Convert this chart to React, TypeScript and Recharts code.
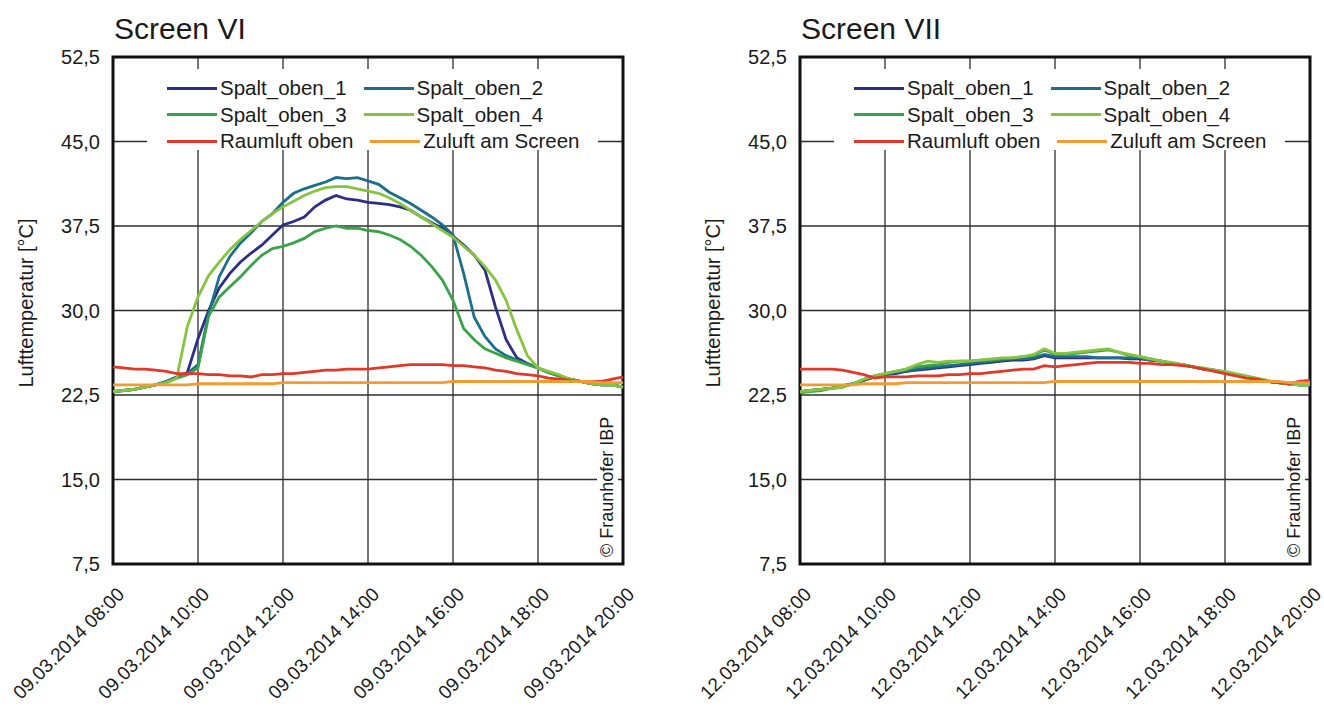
import React from 'react';
import { LineChart, Line, XAxis, YAxis, CartesianGrid, ReferenceArea, Legend } from 'recharts';

const FONT = '"Liberation Sans", Arial, Helvetica, sans-serif';

// time of day in hours, 15 min steps
const hours = [
  8, 8.25, 8.5, 8.75, 9, 9.25, 9.5, 9.75, 10, 10.25, 10.5, 10.75, 11, 11.25, 11.5, 11.75,
  12, 12.25, 12.5, 12.75, 13, 13.25, 13.5, 13.75, 14, 14.25, 14.5, 14.75, 15, 15.25, 15.5, 15.75,
  16, 16.25, 16.5, 16.75, 17, 17.25, 17.5, 17.75, 18, 18.25, 18.5, 18.75, 19, 19.25, 19.5, 19.75, 20,
];
const xTicks = [8, 10, 12, 14, 16, 18, 20];
const yTicks = [7.5, 15, 22.5, 30, 37.5, 45, 52.5];

const seriesNames = ['Spalt_oben_1', 'Spalt_oben_2', 'Spalt_oben_3', 'Spalt_oben_4', 'Raumluft oben', 'Zuluft am Screen'];
const seriesColors = ['#2b2f86', '#1b6f8a', '#3aa348', '#86c440', '#e3372a', '#f39a30'];

// Screen VI, 09.03.2014
const vi_spalt1 = [22.8, 22.9, 23.0, 23.2, 23.4, 23.7, 24.1, 24.5, 27.5, 30.0, 32.0, 33.3, 34.3, 35.1, 35.8, 36.7, 37.6, 37.9, 38.3, 39.2, 39.8, 40.2, 39.9, 39.8, 39.6, 39.5, 39.4, 39.2, 38.9, 38.3, 37.8, 37.3, 36.6, 35.8, 34.9, 33.6, 30.3, 27.4, 25.8, 25.3, 24.9, 24.5, 24.2, 23.9, 23.7, 23.5, 23.4, 23.4, 23.2];
const vi_spalt2 = [22.8, 22.9, 23.0, 23.2, 23.4, 23.7, 24.1, 24.4, 25.2, 29.7, 33.0, 34.8, 36.0, 36.9, 37.9, 38.6, 39.6, 40.4, 40.8, 41.1, 41.4, 41.8, 41.7, 41.8, 41.5, 41.2, 40.5, 40.0, 39.5, 38.9, 38.3, 37.6, 36.7, 33.3, 29.4, 27.7, 26.6, 26.0, 25.6, 25.3, 24.9, 24.5, 24.2, 23.9, 23.7, 23.5, 23.4, 23.4, 23.2];
const vi_spalt3 = [22.8, 22.9, 23.0, 23.2, 23.4, 23.6, 24.0, 24.3, 24.9, 29.5, 31.2, 32.1, 33.0, 34.0, 34.9, 35.5, 35.7, 36.0, 36.4, 37.0, 37.3, 37.5, 37.3, 37.3, 37.1, 37.0, 36.7, 36.3, 35.7, 34.9, 33.9, 32.7, 30.9, 28.4, 27.4, 26.6, 26.2, 25.8, 25.5, 25.2, 24.9, 24.5, 24.2, 23.9, 23.7, 23.5, 23.4, 23.4, 23.2];
const vi_spalt4 = [22.8, 22.9, 23.0, 23.2, 23.4, 23.6, 24.0, 28.6, 31.2, 33.1, 34.3, 35.4, 36.3, 37.1, 37.9, 38.6, 39.2, 39.7, 40.2, 40.6, 40.9, 41.0, 41.0, 40.8, 40.6, 40.4, 40.0, 39.5, 38.9, 38.3, 37.7, 37.1, 36.5, 35.7, 34.9, 33.9, 32.7, 30.9, 28.3, 26.0, 24.9, 24.6, 24.3, 23.9, 23.7, 23.5, 23.4, 23.4, 23.2];
const vi_raum = [25.0, 24.9, 24.8, 24.8, 24.7, 24.6, 24.4, 24.4, 24.4, 24.3, 24.3, 24.2, 24.2, 24.1, 24.3, 24.3, 24.4, 24.4, 24.5, 24.6, 24.7, 24.7, 24.8, 24.8, 24.8, 24.9, 25.0, 25.1, 25.2, 25.2, 25.2, 25.2, 25.1, 25.1, 25.0, 24.9, 24.7, 24.6, 24.4, 24.3, 24.2, 24.0, 23.9, 23.8, 23.7, 23.7, 23.7, 23.9, 24.1];
const vi_zuluft = [23.4, 23.4, 23.4, 23.4, 23.4, 23.4, 23.4, 23.4, 23.5, 23.5, 23.5, 23.5, 23.5, 23.5, 23.5, 23.5, 23.6, 23.6, 23.6, 23.6, 23.6, 23.6, 23.6, 23.6, 23.6, 23.6, 23.6, 23.6, 23.6, 23.6, 23.6, 23.6, 23.7, 23.7, 23.7, 23.7, 23.7, 23.7, 23.7, 23.7, 23.7, 23.7, 23.7, 23.7, 23.7, 23.7, 23.6, 23.6, 23.6];

// Screen VII, 12.03.2014
const vii_spalt1 = [22.8, 22.9, 23.0, 23.1, 23.3, 23.5, 23.8, 24.1, 24.3, 24.4, 24.6, 24.7, 24.8, 24.9, 25.0, 25.1, 25.2, 25.3, 25.4, 25.5, 25.6, 25.6, 25.7, 26.0, 25.8, 25.8, 25.8, 25.8, 25.8, 25.8, 25.8, 25.7, 25.7, 25.6, 25.5, 25.3, 25.2, 25.0, 24.8, 24.7, 24.5, 24.3, 24.1, 23.9, 23.7, 23.6, 23.5, 23.4, 23.4];
const vii_spalt2 = [22.8, 22.9, 23.0, 23.1, 23.3, 23.5, 23.8, 24.1, 24.3, 24.5, 24.6, 24.8, 24.9, 25.0, 25.1, 25.2, 25.3, 25.4, 25.5, 25.6, 25.7, 25.7, 25.8, 26.1, 25.9, 25.9, 25.9, 25.9, 25.8, 25.8, 25.8, 25.8, 25.8, 25.6, 25.5, 25.3, 25.2, 25.0, 24.8, 24.7, 24.5, 24.3, 24.1, 23.9, 23.7, 23.6, 23.5, 23.4, 23.4];
const vii_spalt3 = [22.7, 22.8, 22.9, 23.1, 23.2, 23.5, 23.9, 24.2, 24.4, 24.6, 24.8, 25.0, 25.1, 25.2, 25.4, 25.5, 25.5, 25.6, 25.6, 25.7, 25.8, 25.9, 26.0, 26.5, 26.1, 26.1, 26.2, 26.3, 26.4, 26.5, 26.3, 26.0, 25.9, 25.7, 25.5, 25.3, 25.2, 25.0, 24.8, 24.7, 24.5, 24.3, 24.1, 23.9, 23.7, 23.6, 23.5, 23.4, 23.4];
const vii_spalt4 = [22.8, 22.9, 23.0, 23.1, 23.2, 23.5, 23.9, 24.2, 24.4, 24.6, 24.8, 25.2, 25.5, 25.4, 25.5, 25.5, 25.5, 25.6, 25.7, 25.8, 25.8, 25.9, 26.1, 26.6, 26.2, 26.2, 26.3, 26.4, 26.5, 26.6, 26.3, 26.1, 25.9, 25.7, 25.5, 25.4, 25.2, 25.0, 24.9, 24.7, 24.6, 24.4, 24.2, 24.0, 23.8, 23.6, 23.5, 23.4, 23.4];
const vii_raum = [24.8, 24.8, 24.8, 24.8, 24.7, 24.5, 24.3, 24.0, 24.1, 24.1, 24.1, 24.2, 24.2, 24.2, 24.3, 24.3, 24.4, 24.4, 24.5, 24.6, 24.7, 24.8, 24.8, 25.1, 25.0, 25.1, 25.2, 25.3, 25.4, 25.4, 25.4, 25.4, 25.3, 25.3, 25.2, 25.2, 25.1, 25.0, 24.8, 24.6, 24.4, 24.2, 24.0, 23.9, 23.7, 23.6, 23.5, 23.7, 23.8];
const vii_zuluft = [23.4, 23.4, 23.4, 23.4, 23.4, 23.4, 23.5, 23.5, 23.5, 23.5, 23.6, 23.6, 23.6, 23.6, 23.6, 23.6, 23.6, 23.6, 23.6, 23.6, 23.6, 23.6, 23.6, 23.6, 23.7, 23.7, 23.7, 23.7, 23.7, 23.7, 23.7, 23.7, 23.7, 23.7, 23.7, 23.7, 23.7, 23.7, 23.7, 23.7, 23.7, 23.7, 23.7, 23.7, 23.7, 23.7, 23.6, 23.6, 23.6];

const keys = ['s1', 's2', 's3', 's4', 'raum', 'zuluft'];

function buildRows(cols: number[][]) {
  return hours.map((h, i) => {
    const row: Record<string, number> = { h };
    keys.forEach((k, j) => { row[k] = cols[j][i]; });
    return row;
  });
}

const dataVI = buildRows([vi_spalt1, vi_spalt2, vi_spalt3, vi_spalt4, vi_raum, vi_zuluft]);
const dataVII = buildRows([vii_spalt1, vii_spalt2, vii_spalt3, vii_spalt4, vii_raum, vii_zuluft]);

const W = 662;
const H = 710;
const PLOT_TOP = 57;
const PLOT_BOTTOM = 564;

function LegendBox() {
  const rows = [[0, 1], [2, 3], [4, 5]];
  return (
    <div style={{
      width: 451, height: 81, background: '#fff', boxSizing: 'border-box',
      paddingTop: 6, paddingLeft: 20, fontFamily: FONT, fontSize: 20.5, color: '#1a1a1a',
    }}>
      {rows.map((r, ri) => (
        <div key={ri} style={{ display: 'flex', alignItems: 'center', height: 26.5, gap: 17, whiteSpace: 'nowrap' }}>
          {r.map(k => (
            <div key={k} style={{ display: 'flex', alignItems: 'center' }}>
              <span style={{ display: 'inline-block', width: 50, height: 3, background: seriesColors[k], marginRight: 3 }} />
              <span>{seriesNames[k]}</span>
            </div>
          ))}
        </div>
      ))}
    </div>
  );
}

function DateTick(props: any) {
  const { x, y, payload, date } = props;
  const hh = String(payload.value).padStart(2, '0');
  return (
    <text
      transform={`translate(${x + 3},${y + 14}) rotate(-45)`}
      textAnchor="end" dy="0.71em" fontSize={19} fontFamily={FONT} fill="#1a1a1a"
    >
      {`${date} ${hh}:00`}
    </text>
  );
}

function Panel({ title, date, data, plotLeft }: { title: string; date: string; data: any[]; plotLeft: number }) {
  const plotRight = plotLeft + 510;
  const yAxisW = 70;
  const cx = plotRight - 10;
  return (
    <div style={{ position: 'relative', width: W, height: H }}>
      <LineChart
        width={W} height={H} data={data}
        margin={{ top: PLOT_TOP, right: W - plotRight, bottom: 26, left: plotLeft - yAxisW }}
      >
        <CartesianGrid stroke="#2e2e2e" strokeWidth={1.3} />
        <XAxis
          dataKey="h" type="number" domain={[8, 20]} ticks={xTicks} interval={0}
          axisLine={false} tickLine={false} height={H - PLOT_BOTTOM - 26}
          tick={(p: any) => <DateTick {...p} date={date} />}
        />
        <YAxis
          type="number" domain={[7.5, 52.5]} ticks={yTicks} interval={0} width={yAxisW}
          axisLine={false} tickLine={false} tickMargin={7}
          tickFormatter={(v: number) => v.toFixed(1).replace('.', ',')}
          tick={{ fontSize: 20, fill: '#1a1a1a', fontFamily: FONT }}
        />
        {keys.map((k, i) => (
          <Line key={k} type="linear" dataKey={k} stroke={seriesColors[i]} strokeWidth={2.8}
            dot={false} isAnimationActive={false} />
        ))}
        <ReferenceArea x1={8} x2={20} y1={7.5} y2={52.5} fill="none" stroke="#111" strokeWidth={3} />
        <Legend
          layout="horizontal" verticalAlign="middle" align="center"
          content={() => <LegendBox />}
          wrapperStyle={{ position: 'absolute', left: plotLeft + 34, top: 69, width: 451, height: 81 }}
        />
      </LineChart>
      <svg width={W} height={H} style={{ position: 'absolute', left: 0, top: 0, pointerEvents: 'none' }}>
        <text x={plotLeft + 1} y={39} fontSize={30} fontFamily={FONT} fill="#1a1a1a">{title}</text>
        <text
          transform={`translate(${plotLeft - 87},${303}) rotate(-90)`}
          textAnchor="middle" dominantBaseline="central" fontSize={20} fontFamily={FONT} fill="#1a1a1a"
        >
          Lufttemperatur [°C]
        </text>
        <rect x={cx - 16} y={404} width={21} height={156} fill="#fff" />
        <text
          transform={`translate(${cx},${PLOT_BOTTOM - 7}) rotate(-90)`}
          textAnchor="start" fontSize={18} fontFamily={FONT} fill="#1a1a1a"
        >
          © Fraunhofer IBP
        </text>
      </svg>
    </div>
  );
}

export default function App() {
  return (
    <div style={{ position: 'absolute', left: 0, top: 0, width: 1324, height: 710, background: '#fff', display: 'flex' }}>
      <Panel title="Screen VI" date="09.03.2014" data={dataVI} plotLeft={113} />
      <Panel title="Screen VII" date="12.03.2014" data={dataVII} plotLeft={138} />
    </div>
  );
}
